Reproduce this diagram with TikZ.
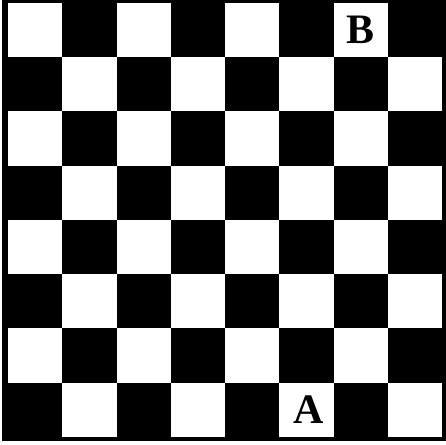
\documentclass[tikz,border=0pt]{standalone}
\usepackage{fontspec}
\setmainfont{Liberation Serif}
\begin{document}
\begin{tikzpicture}[label/.style={font=\bfseries\fontsize{22}{22}\selectfont, text=black}]
    \useasboundingbox (-0.148,-0.148) rectangle (8.074,8.055);
    % Cornice
    \fill[black] (-0.11,-0.074) rectangle (8.074,8.055);
    
    % Caselle bianche
    \foreach \i in {0,...,7}
        \foreach \j in {0,...,7} {
            \pgfmathtruncatemacro{\parita}{mod(\i+\j,2)}
            \ifnum\parita=1 \fill[white] (\i,\j) rectangle ++(1,1); \fi
        }
    
    % Etichette
    \node[label] (B) at (6.5,7.5) {B};
    \node[label] (A) at (5.55,0.5) {A};
\end{tikzpicture}
\end{document}
